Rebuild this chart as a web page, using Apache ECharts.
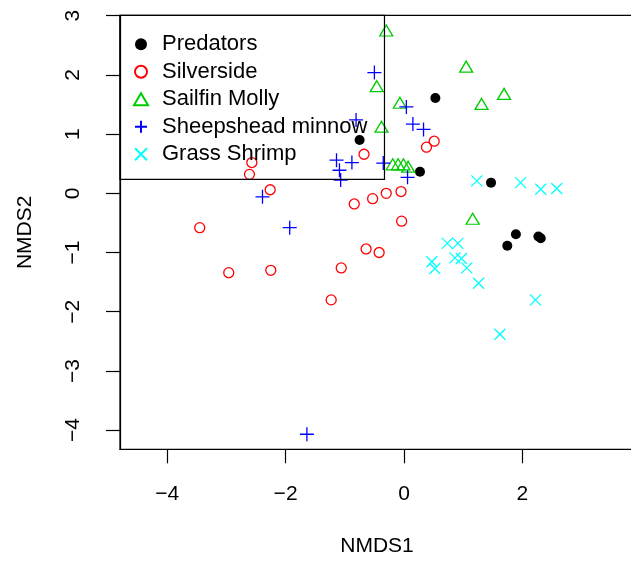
<!DOCTYPE html>
<html>
<head>
<meta charset="utf-8">
<script src="https://cdn.jsdelivr.net/npm/echarts@6/dist/echarts.min.js"></script>
<style>
html,body{margin:0;padding:0;background:#fff;}
#chart{width:631px;height:562px;}
</style>
</head>
<body>
<div id="chart"></div>
<script>
var seriesNames = ['Predators', 'Silverside', 'Sailfin Molly', 'Sheepshead minnow', 'Grass Shrimp'];

var predX = [-0.75, 0.53, 0.27, 1.47, 1.89, 1.745, 2.27, 2.31];
var predY = [0.90, 1.61, 0.365, 0.18, -0.69, -0.885, -0.73, -0.76];

var silvX = [-0.675, -2.57, -2.61, -2.26, 0.51, 0.38, -0.30, -0.05, -0.53, -0.84, -0.04, -0.64, -0.42, -1.06, -1.23, -3.45, -2.96, -2.25];
var silvY = [0.66, 0.52, 0.32, 0.06, 0.88, 0.78, 0.0, 0.03, -0.09, -0.18, -0.47, -0.94, -1.0, -1.26, -1.80, -0.58, -1.34, -1.30];

var sailX = [-0.30, -0.46, -0.07, -0.38, 1.05, 1.31, 1.69, -0.19, -0.10, -0.01, 0.07, 1.16];
var sailY = [2.75, 1.81, 1.53, 1.125, 2.14, 1.51, 1.68, 0.49, 0.49, 0.49, 0.45, -0.43];

var sheepX = [-0.50, -0.81, 0.04, 0.15, 0.33, -1.14, -0.88, -1.09, -1.07, -0.35, 0.06, -2.39, -1.93, -1.64];
var sheepY = [2.04, 1.24, 1.46, 1.17, 1.08, 0.56, 0.52, 0.39, 0.225, 0.51, 0.27, -0.06, -0.58, -4.07];

var shrimpX = [1.23, 1.97, 2.31, 2.58, 0.73, 0.91, 0.47, 0.52, 0.86, 0.97, 1.06, 1.26, 2.22, 1.62];
var shrimpY = [0.21, 0.18, 0.07, 0.08, -0.845, -0.845, -1.155, -1.27, -1.09, -1.10, -1.26, -1.52, -1.80, -2.38];

var xTicks = [-4, -2, 0, 2];
var yTicks = [-4, -3, -2, -1, 0, 1, 2, 3];
var xTitle = 'NMDS1';
var yTitle = 'NMDS2';

function pairs(xs, ys) { return xs.map(function (x, i) { return [x, ys[i]]; }); }
function fmt(v) { return String(v).replace('-', '\u2212'); }

var FONT = 'Liberation Sans, Arial, sans-serif';
var plusPath = 'path://M0,5L10,5M5,0L5,10';
var crossPath = 'path://M0,0L10,10M0,10L10,0';

var chart = echarts.init(document.getElementById('chart'), null, {renderer: 'canvas'});
var axisCommon = {
  splitLine: {show: false},
  axisLine: {show: true, onZero: false, lineStyle: {color: '#000', width: 1.2}},
  axisTick: {show: true, inside: false, length: 14, lineStyle: {color: '#000', width: 1.2}},
  nameLocation: 'middle',
  nameTextStyle: {fontFamily: FONT, fontSize: 21, color: '#000'}
};
var option = {
  animation: false,
  backgroundColor: '#fff',
  grid: {show: true, left: 120, top: 15.3, width: 514, height: 434, borderColor: '#000', borderWidth: 1.2,
         backgroundColor: 'transparent', containLabel: false, outerBoundsMode: 'none'},
  xAxis: Object.assign({}, axisCommon, {
    type: 'value', min: -4.797, max: 3.885,
    name: xTitle, nameGap: 86,
    axisTick: Object.assign({}, axisCommon.axisTick, {customValues: xTicks}),
    axisLabel: {customValues: xTicks, formatter: fmt, margin: 34, fontFamily: FONT, fontSize: 21, color: '#000'}
  }),
  yAxis: Object.assign({}, axisCommon, {
    type: 'value', min: -4.324, max: 3.007,
    name: yTitle, nameGap: 84,
    axisTick: Object.assign({}, axisCommon.axisTick, {customValues: yTicks}),
    axisLabel: {customValues: yTicks, formatter: fmt, rotate: 90, margin: 36, fontFamily: FONT, fontSize: 21, color: '#000'}
  }),
  legend: {
    orient: 'vertical', left: 120, top: 15.3,
    data: seriesNames,
    itemWidth: 14, itemHeight: 12, itemGap: 5.5,
    padding: [18, 17, 14, 13],
    borderColor: '#000', borderWidth: 1.2, backgroundColor: 'transparent',
    selectedMode: false,
    textStyle: {fontFamily: FONT, fontSize: 22, color: '#000', lineHeight: 22, padding: [0, 0, 0, 9]}
  },
  series: [
    {name: seriesNames[0], type: 'scatter', data: pairs(predX, predY), symbol: 'circle', symbolSize: 10,
     itemStyle: {color: '#000', opacity: 1}},
    {name: seriesNames[1], type: 'scatter', data: pairs(silvX, silvY), symbol: 'circle', symbolSize: 10,
     itemStyle: {color: 'rgba(0,0,0,0)', borderColor: '#FF0000', borderWidth: 1.3, opacity: 1}},
    {name: seriesNames[2], type: 'scatter', data: pairs(sailX, sailY), symbol: 'triangle', symbolSize: [13, 11],
     itemStyle: {color: 'rgba(0,0,0,0)', borderColor: '#00CD00', borderWidth: 1.3, opacity: 1}},
    {name: seriesNames[3], type: 'scatter', data: pairs(sheepX, sheepY), symbol: plusPath, symbolSize: 14,
     itemStyle: {color: 'rgba(0,0,0,0)', borderColor: '#0000FF', borderWidth: 1.3, opacity: 1}},
    {name: seriesNames[4], type: 'scatter', data: pairs(shrimpX, shrimpY), symbol: crossPath, symbolSize: 11,
     itemStyle: {color: 'rgba(0,0,0,0)', borderColor: '#00FFFF', borderWidth: 1.3, opacity: 1}}
  ]
};
chart.setOption(option);
</script>
</body>
</html>
